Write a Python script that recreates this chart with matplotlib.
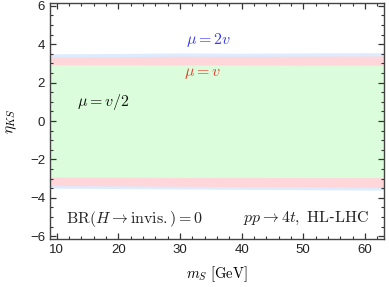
import matplotlib
matplotlib.use("Agg")
import matplotlib.pyplot as plt
from matplotlib.ticker import MultipleLocator

plt.rcParams['mathtext.fontset'] = 'cm'
plt.rcParams['font.family'] = ['Liberation Sans', 'DejaVu Sans']

# Data
m_s = [8.9, 20, 30, 40, 50, 63.1]
blue_upper = [3.50, 3.52, 3.55, 3.53, 3.55, 3.56]
blue_lower = [-3.50, -3.52, -3.54, -3.56, -3.58, -3.60]
red_upper = [3.33, 3.35, 3.38, 3.37, 3.38, 3.39]
red_lower = [-3.37, -3.38, -3.40, -3.42, -3.44, -3.46]
green_upper = [2.93, 2.93, 2.92, 2.92, 2.91, 2.91]
green_lower = [-2.93, -2.93, -2.94, -2.94, -2.95, -2.95]

fig = plt.figure(figsize=(3.89, 2.87), dpi=100)
ax = fig.add_axes([50/389, 48/287, 334/389, 236/287])

ax.fill_between(m_s, blue_lower, blue_upper, color='#dcebfe', lw=0)
ax.fill_between(m_s, red_lower, red_upper, color='#ffd6da', lw=0)
ax.fill_between(m_s, green_lower, green_upper, color='#dcfddc', lw=0)

ax.set_xlim(8.9, 63.1)
ax.set_ylim(-6.15, 6.15)
ax.xaxis.set_major_locator(MultipleLocator(10))
ax.xaxis.set_minor_locator(MultipleLocator(2))
ax.yaxis.set_major_locator(MultipleLocator(2))
ax.yaxis.set_minor_locator(MultipleLocator(0.5))
ax.tick_params(which='both', direction='in', top=True, right=True, labelsize=9.5, colors='#333333', labelcolor='#222222')
ax.tick_params(which='major', length=4, width=0.9)
ax.tick_params(which='minor', length=2, width=0.8)
for s in ax.spines.values():
    s.set_color('#444444')
    s.set_linewidth(1.0)

ax.set_xlabel(r'$m_S\ [\mathrm{GeV}]$', fontsize=10.5, labelpad=6)
ax.set_ylabel(r'$\eta_{KS}$', fontsize=11, labelpad=8)

fs = 11.5
ax.text(34.6, 4.2, r'$\mu = 2v$', color='#3a3af0', fontsize=fs, ha='center', va='center')
ax.text(33.6, 2.5, r'$\mu = v$', color='#e8402f', fontsize=fs, ha='center', va='center')
ax.text(17.5, 1.0, r'$\mu = v/2$', color='#111111', fontsize=fs, ha='center', va='center')
ax.text(22.6, -5.1, r'$\mathrm{BR}(H \to \mathrm{invis.}) = 0$', color='#222222', fontsize=fs, ha='center', va='center')
ax.text(50.5, -5.1, r'$pp \to 4t,\ \mathrm{HL}$-$\mathrm{LHC}$', color='#222222', fontsize=fs, ha='center', va='center')

fig.savefig('out.png', dpi=100)
